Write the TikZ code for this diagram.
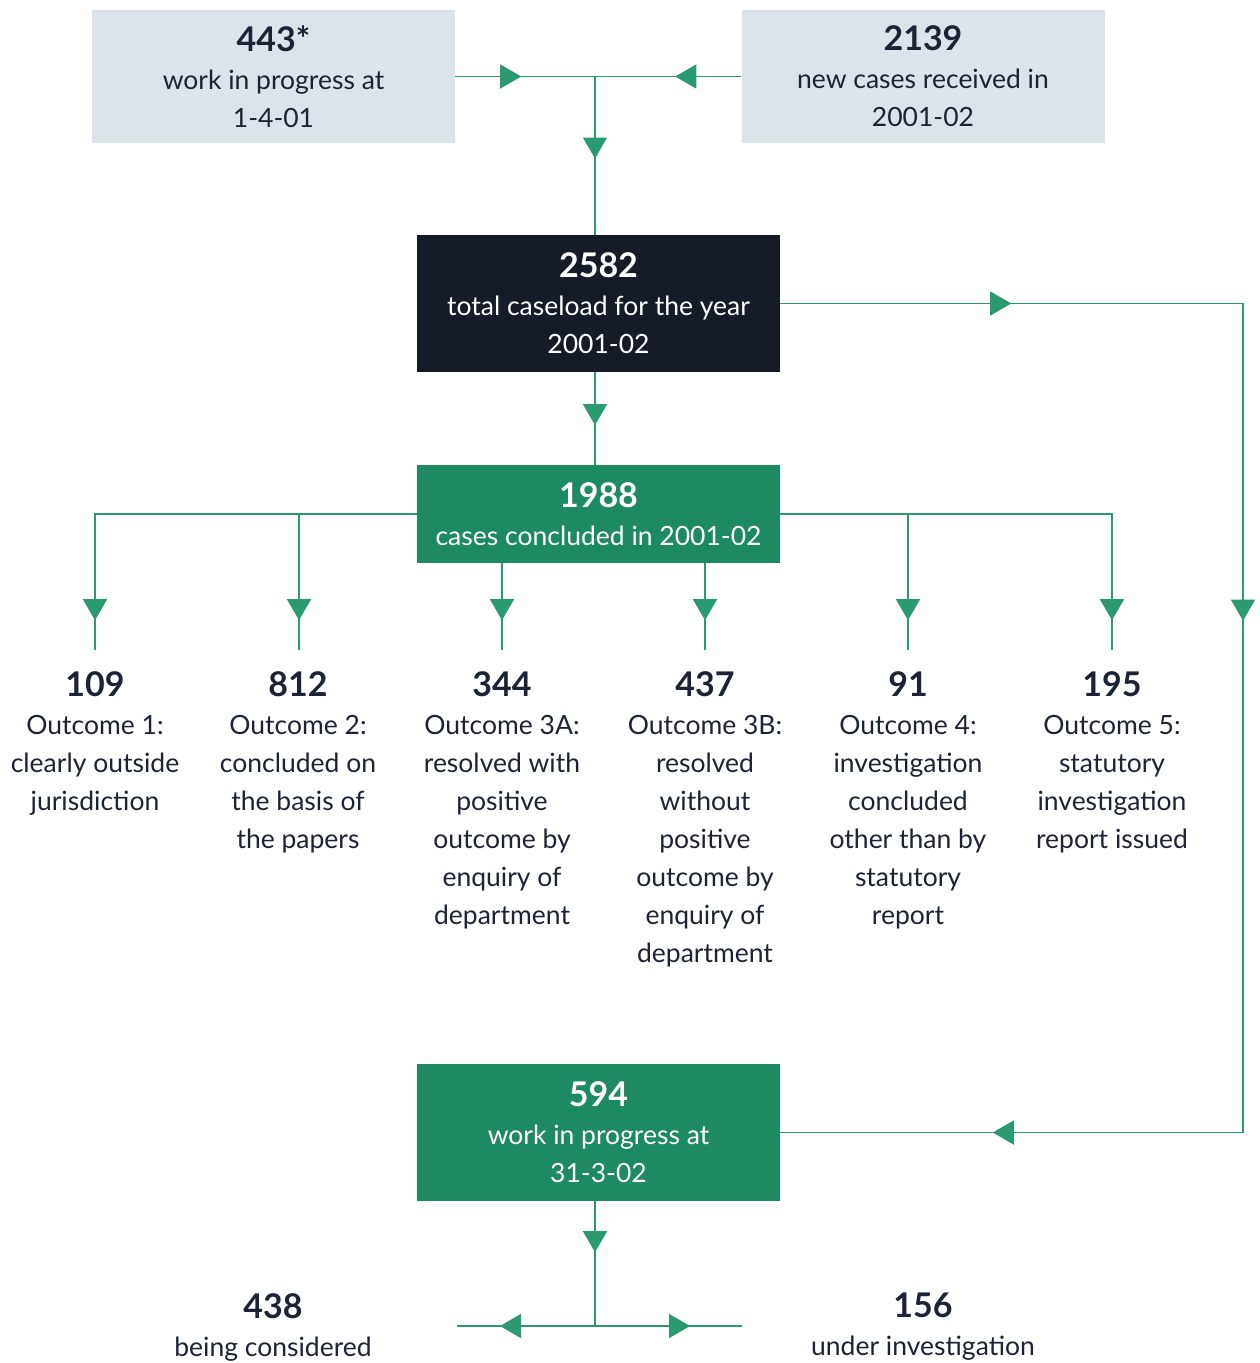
\documentclass[tikz,border=0pt]{standalone}
\usepackage{fontspec}
\setmainfont{Lato}
\usetikzlibrary{arrows.meta,decorations.markings}
\definecolor{ogreen}{HTML}{1E8A62}
\definecolor{lgreen}{HTML}{2A9A70}
\definecolor{navy}{HTML}{151B27}
\definecolor{greybox}{HTML}{DDE3EA}
\definecolor{txt}{HTML}{1B2335}
\newcommand{\numtxt}[1]{{\fontsize{34}{38}\selectfont\bfseries #1}}
\tikzset{
  conn/.style={color=lgreen, line width=1.4pt},
  tipat/.style={postaction={decorate,decoration={markings,
      mark=at position #1 with {\arrow{Triangle[length=21pt 0 0,width=24pt 0 0]}}}}},
  box/.style={minimum width=363pt, align=center, inner sep=0pt,
      font=\fontsize{26.5}{38}\selectfont},
  greyb/.style={box, fill=greybox, text=txt, minimum height=133pt},
  navyb/.style={box, fill=navy, text=white, minimum height=137pt},
  greenb/.style={box, fill=ogreen, text=white},
  outtxt/.style={anchor=north, align=center, text=txt, inner sep=0pt,
      font=\fontsize{26.5}{38}\selectfont},
}
\begin{document}
\begin{tikzpicture}[x=1pt,y=-1pt]
\useasboundingbox (0,0) rectangle (1259,1363);
% boxes
\node[greyb] (w443) at (273.5,76.5) {\numtxt{443*}\\work in progress at\\1-4-01};
\node[greyb] (n2139) at (923,76.5) {\numtxt{2139}\\new cases received in\\2001-02};
\node[navyb] (tot) at (598.5,303.5) {\numtxt{2582}\\total caseload for the year\\2001-02};
\node[greenb, minimum height=98pt] (conc) at (598.5,514) {\numtxt{1988}\\cases concluded in 2001-02};
\node[greenb, minimum height=137pt] (wip) at (598.5,1132.5) {\numtxt{594}\\work in progress at\\31-3-02};
% outcomes
\node[outtxt] (o1) at (95,671) {\numtxt{109}\\Outcome 1:\\clearly outside\\jurisdiction};
\node[outtxt] (o2) at (298,671) {\numtxt{812}\\Outcome 2:\\concluded on\\the basis of\\the papers};
\node[outtxt] (o3) at (502,671) {\numtxt{344}\\Outcome 3A:\\resolved with\\positive\\outcome by\\enquiry of\\department};
\node[outtxt] (o4) at (705,671) {\numtxt{437}\\Outcome 3B:\\resolved\\without\\positive\\outcome by\\enquiry of\\department};
\node[outtxt] (o5) at (908,671) {\numtxt{91}\\Outcome 4:\\investigation\\concluded\\other than by\\statutory\\report};
\node[outtxt] (o6) at (1112,671) {\numtxt{195}\\Outcome 5:\\statutory\\investigation\\report issued};
\node[outtxt] (b438) at (273,1293) {\numtxt{438}\\being considered};
\node[outtxt] (b156) at (923,1293) {\numtxt{156}\\under investigation};
% coordinates
\coordinate (J) at (595,76.5);
\coordinate (rt) at (1243,303.5);
\coordinate (rb) at (1243,1132.5);
\coordinate (d1) at (95,650);
\coordinate (d2) at (299,650);
\coordinate (d3) at (502,650);
\coordinate (d4) at (705,650);
\coordinate (d5) at (908,650);
\coordinate (d6) at (1112,650);
\coordinate (J2) at (595,1326);
\coordinate (L) at (457,1326);
\coordinate (R) at (742,1326);
% connectors
\draw[conn, tipat=66pt] (w443.east) -- (J);
\draw[conn, tipat=66pt] (n2139.west) -- (J);
\draw[conn, tipat=82pt] (J) -- (J |- tot.north);
\draw[conn, tipat=231pt, tipat=780pt, tipat=1542pt] (tot.east) -- (rt) -- (rb) -- (wip.east);
\draw[conn, tipat=53pt] (J |- tot.south) -- (J |- conc.north);
\draw[conn, tipat=428pt] (conc.west) -| (d1);
\draw[conn, tipat=224pt] (conc.west) -| (d2);
\draw[conn, tipat=57pt] (conc.south -| d3) -- (d3);
\draw[conn, tipat=57pt] (conc.south -| d4) -- (d4);
\draw[conn, tipat=234pt] (conc.east) -| (d5);
\draw[conn, tipat=438pt] (conc.east) -| (d6);
\draw[conn, tipat=51pt] (J |- wip.south) -- (J2);
\draw[conn, tipat=95pt] (J2) -- (L);
\draw[conn, tipat=95pt] (J2) -- (R);
\end{tikzpicture}
\end{document}
